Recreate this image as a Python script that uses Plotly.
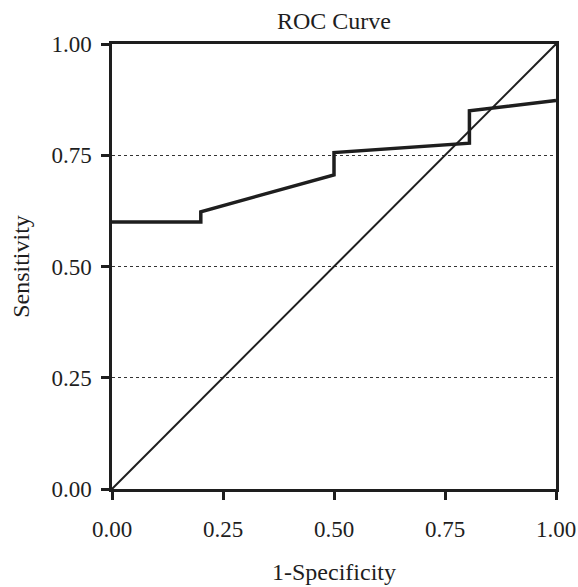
import plotly.graph_objects as go

# ROC curve data
fpr = [0.0, 0.20, 0.20, 0.50, 0.50, 0.805, 0.805, 1.0]
tpr = [0.60, 0.60, 0.623, 0.706, 0.756, 0.777, 0.850, 0.873]

# reference diagonal
diag_x = [0.0, 1.0]
diag_y = [0.0, 1.0]

tick_vals = [0.0, 0.25, 0.50, 0.75, 1.00]
tick_text = ["0.00", "0.25", "0.50", "0.75", "1.00"]

FONT = "Liberation Serif"
INK = "#1e1e1e"

W, H = 578, 587
L, R, T, B = 112, 22, 44, 98

fig = go.Figure()
fig.add_trace(go.Scatter(x=diag_x, y=diag_y, mode="lines",
                         line=dict(color=INK, width=2), showlegend=False,
                         hoverinfo="skip"))
fig.add_trace(go.Scatter(x=fpr, y=tpr, mode="lines",
                         line=dict(color=INK, width=3.5), showlegend=False))

fig.update_layout(
    width=W, height=H,
    margin=dict(l=L, r=R, t=T, b=B),
    paper_bgcolor="white", plot_bgcolor="white",
    font=dict(family=FONT, color=INK, size=23),
    title=dict(text="ROC Curve", x=(L + (W - R)) / 2 / W, xanchor="center",
               y=1 - 21 / H, yanchor="middle", yref="container",
               font=dict(family=FONT, size=24, color=INK)),
)
fig.update_xaxes(
    range=[0, 1], tickvals=tick_vals, ticktext=tick_text,
    showgrid=False, zeroline=False,
    showline=True, linecolor=INK, linewidth=2.5, mirror=True,
    ticks="outside", ticklen=8, tickwidth=2.5, tickcolor=INK,
    ticklabelstandoff=10, ticklabeloverflow="allow",
    tickfont=dict(family=FONT, size=23, color=INK),
    title=dict(text="1-Specificity", font=dict(family=FONT, size=24, color=INK),
               standoff=22),
    automargin=False,
)
fig.update_yaxes(
    range=[0, 1], tickvals=tick_vals, ticktext=tick_text,
    showgrid=True, gridcolor="#333333", griddash="dot", gridwidth=1,
    zeroline=False,
    showline=True, linecolor=INK, linewidth=2.5, mirror=True,
    ticks="outside", ticklen=8, tickwidth=2.5, tickcolor=INK,
    ticklabelstandoff=5, ticklabeloverflow="allow",
    tickfont=dict(family=FONT, size=23, color=INK),
    title=dict(text="Sensitivity", font=dict(family=FONT, size=24, color=INK),
               standoff=16),
    automargin=False,
)

fig.write_html(
    "out.html",
    config={"displayModeBar": False},
    post_script="document.body.style.margin='0';document.body.style.overflow='hidden';",
)
